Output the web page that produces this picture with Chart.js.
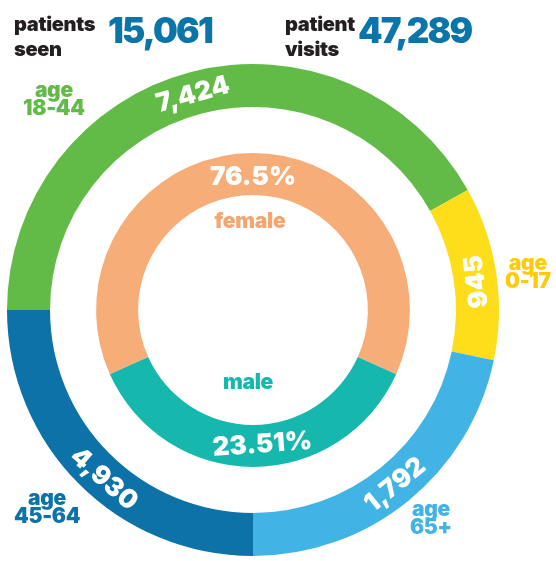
<!DOCTYPE html>
<html>
<head>
<meta charset="utf-8">
<script src="https://cdn.jsdelivr.net/npm/chart.js@4"></script>
<style>
  body { margin: 0; background: #fff; }
  #wrap { position: relative; width: 556px; height: 561px; overflow: hidden; font-family: Inter, "Noto Sans", sans-serif; font-weight: 900; }
  #grafica { position: absolute; left: 0; top: 0; }
  .txt { position: absolute; white-space: nowrap; }
  .dark { color: #231f20; font-size: 20px; line-height: 25px; letter-spacing: -0.3px; }
  .big { color: #0b74a9; font-size: 35px; line-height: 40px; letter-spacing: -1.8px; }
  .age { font-size: 21px; line-height: 18px; text-align: center; letter-spacing: -0.3px; }
</style>
</head>
<body>
<div id="wrap">
  <canvas id="grafica" width="556" height="561"></canvas>
  <div class="txt dark" style="left:14px; top:12px;">patients<br>seen</div>
  <div class="txt big" style="left:108px; top:10px;">15,061</div>
  <div class="txt dark" style="left:285px; top:12px;">patient<br>visits</div>
  <div class="txt big" style="left:358px; top:10px;">47,289</div>
  <div class="txt age" style="left:23px; top:81px; color:#62bb46;">age<br>18-44</div>
  <div class="txt age" style="left:505px; top:254px; color:#fdcb0a;">age<br>0-17</div>
  <div class="txt age" style="left:410px; top:500px; color:#42b3e5;">age<br>65+</div>
  <div class="txt age" style="left:14px; top:489px; color:#0c72a8;">age<br>45-64</div>
  <div class="txt age" style="left:208px; top:212px; width:84px; color:#f5a56f;">female</div>
  <div class="txt age" style="left:208px; top:373px; width:80px; color:#16b8ad;">male</div>
</div>
<script>
// outer ring: age groups
const grupos = ["age 18-44", "age 0-17", "age 65+", "age 45-64"];
const pacientes = ["7,424", "945", "1,792", "4,930"];
const arcoGrupos = [150.8, 41, 78.2, 90]; // degrees of each slice as drawn
const coloresGrupos = ["#62bb46", "#fede1a", "#42b3e5", "#0c72a8"];

// inner ring: sex
const sexos = ["female", "male"];
const porcentajes = ["76.5%", "23.51%"];
const arcoSexos = [228.4, 131.6];
const coloresSexos = ["#f7ad78", "#16b8ad"];

// small angle shifts (degrees) so the labels sit where the original put them
const ajusteAngulo = { 0: [-1, 1.5, 0, -3.6], 2: [0, -4] };

const etiquetasAnillo = {
  afterDatasetsDraw(chart) {
    const ctx = chart.ctx;
    const textos = { 0: pacientes, 2: porcentajes };
    ctx.save();
    ctx.fillStyle = "#fff";
    ctx.font = "900 26px Inter, 'Noto Sans', sans-serif";
    ctx.textAlign = "center";
    ctx.textBaseline = "middle";
    Object.keys(textos).forEach(i => {
      const meta = chart.getDatasetMeta(i);
      meta.data.forEach((arc, j) => {
        const p = arc.getProps(["x", "y", "startAngle", "endAngle", "innerRadius", "outerRadius"], true);
        const medio = (p.startAngle + p.endAngle) / 2 + ajusteAngulo[i][j] * Math.PI / 180;
        const r = (p.innerRadius + p.outerRadius) / 2 - (i == 2 ? 2 : 0);
        const x = p.x + r * Math.cos(medio);
        const y = p.y + r * Math.sin(medio);
        const giro = Math.sin(medio) > -0.5 ? medio - Math.PI / 2 : medio + Math.PI / 2;
        ctx.save();
        ctx.translate(x, y);
        ctx.rotate(giro);
        ctx.fillText(textos[i][j], 0, 1);
        ctx.restore();
      });
    });
    ctx.restore();
  }
};

new Chart(document.getElementById("grafica"), {
  type: "doughnut",
  data: {
    labels: grupos,
    datasets: [
      {
        data: arcoGrupos,
        backgroundColor: coloresGrupos,
        rotation: -90,
        weight: 43
      },
      {
        data: [1],
        backgroundColor: "rgba(0,0,0,0)",
        weight: 46
      },
      {
        data: arcoSexos,
        backgroundColor: coloresSexos,
        rotation: 245.8,
        weight: 42
      }
    ]
  },
  options: {
    responsive: false,
    devicePixelRatio: 1,
    animation: false,
    cutout: "46.7%",
    layout: { padding: { left: 7, right: 57, top: 64, bottom: 5 } },
    elements: { arc: { borderWidth: 0, hoverBorderWidth: 0, offset: 0, hoverOffset: 0 } },
    plugins: {
      legend: { display: false },
      tooltip: { enabled: false }
    },
    events: []
  },
  plugins: [etiquetasAnillo]
});
</script>
</body>
</html>
